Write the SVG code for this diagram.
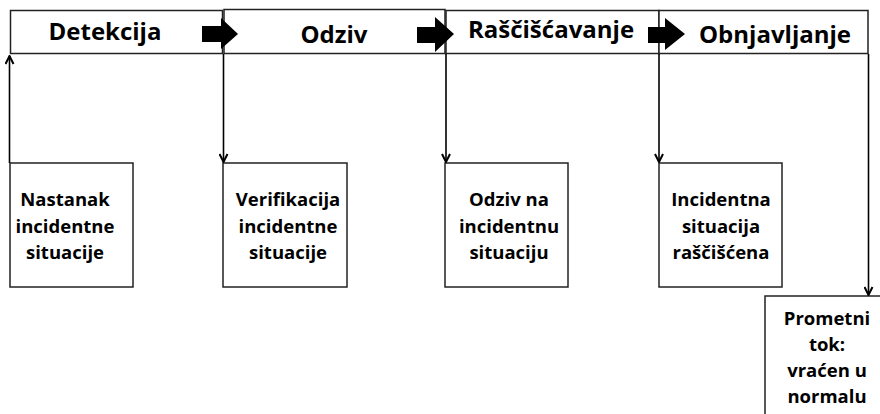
<svg xmlns="http://www.w3.org/2000/svg" width="880" height="414" viewBox="0 0 880 414">
<defs>
<style>
.box{fill:#fff;stroke:#222;stroke-width:1.5}
.t{font-family:"Open Sans","Noto Sans",sans-serif;font-weight:bold;fill:#000;text-anchor:middle}
.h{font-size:24px}
.b{font-size:18.5px}
.c{fill:none;stroke:#000;stroke-width:1.6}
.blk{fill:#000}
</style>
<marker id="ah" viewBox="0 0 10 10" refX="9" refY="5" markerWidth="10" markerHeight="10" markerUnits="userSpaceOnUse" orient="auto">
<path d="M1,1 L9,5 L1,9" fill="none" stroke="#000" stroke-width="2"/>
</marker>
</defs>
<rect width="880" height="414" fill="#fff"/>
<g id="detekcija"><rect class="box" x="10.5" y="10.5" width="212" height="43"/><text class="t h" x="105" y="40">Detekcija</text></g>
<g id="odziv"><rect class="box" x="224" y="9.5" width="221" height="44"/><text class="t h" x="334" y="43">Odziv</text></g>
<g id="rasciscavanje"><rect class="box" x="446" y="10.5" width="213" height="43"/><text class="t h" x="551" y="38">Raščišćavanje</text></g>
<g id="obnjavljanje"><rect class="box" x="659" y="10.5" width="209" height="43"/><text class="t h" x="775" y="43">Obnjavljanje</text></g>
<g id="arrows-block">
<path class="blk" d="M202,26 H221 V18 L238,34 L221,49 V42 H202 Z"/>
<path class="blk" d="M417,27 H435 V17 L454,34 L435,52 V43 H417 Z"/>
<path class="blk" d="M648,27 H665 V18 L685,34 L665,50 V43 H648 Z"/>
</g>
<g id="nastanak"><rect class="box" x="10" y="163" width="123" height="124"/><text class="t b"><tspan x="65" y="206">Nastanak</tspan><tspan x="65" y="232.5">incidentne</tspan><tspan x="65" y="259">situacije</tspan></text></g>
<g id="verifikacija"><rect class="box" x="223" y="163" width="124" height="124"/><text class="t b"><tspan x="288" y="206">Verifikacija</tspan><tspan x="288" y="232.5">incidentne</tspan><tspan x="288" y="259">situacije</tspan></text></g>
<g id="odziv-na"><rect class="box" x="445" y="163" width="123" height="124"/><text class="t b"><tspan x="509" y="206">Odziv na</tspan><tspan x="509" y="232.5">incidentnu</tspan><tspan x="509" y="259">situaciju</tspan></text></g>
<g id="incidentna"><rect class="box" x="659" y="163" width="123" height="124"/><text class="t b"><tspan x="721" y="206">Incidentna</tspan><tspan x="721" y="232.5">situacija</tspan><tspan x="721" y="259">raščišćena</tspan></text></g>
<g id="prometni"><rect class="box" x="765" y="296" width="130" height="140"/><text class="t b"><tspan x="827" y="325">Prometni</tspan><tspan x="827" y="351">tok:</tspan><tspan x="827" y="377">vraćen u</tspan><tspan x="827" y="403">normalu</tspan></text></g>
<g id="connectors">
<path class="c" d="M9.5,163 V56" marker-end="url(#ah)"/>
<path class="c" d="M223.5,54 V162" marker-end="url(#ah)"/>
<path class="c" d="M446,54 V162" marker-end="url(#ah)"/>
<path class="c" d="M659,54 V162" marker-end="url(#ah)"/>
<path class="c" d="M868.5,54 V295" marker-end="url(#ah)"/>
</g>
</svg>
